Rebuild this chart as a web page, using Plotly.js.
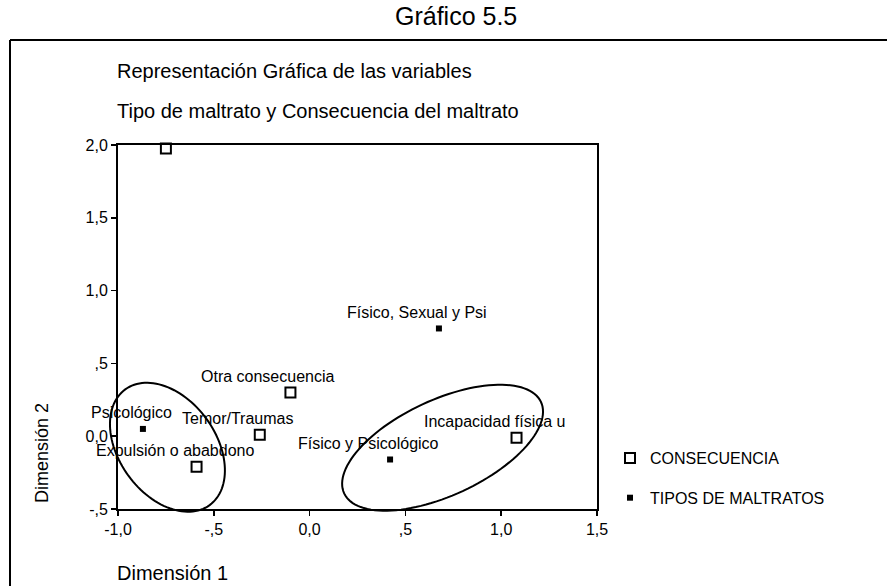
<!DOCTYPE html>
<html><head><meta charset="utf-8">
<script src="https://cdn.plot.ly/plotly-3.0.1.min.js"></script>
<style>html,body{margin:0;padding:0;background:#fff}</style>
</head><body><div id="chart" style="width:887px;height:586px"></div>
<script>
// ---- data ----
const consecuenciaNames = ["", "Otra consecuencia", "Temor/Traumas", "Expulsión o ababdono", "Incapacidad física u"];
const consecuenciaX = [-0.75, -0.10, -0.26, -0.59, 1.08];
const consecuenciaY = [1.976, 0.30, 0.01, -0.21, -0.01];
const tiposNames = ["Psicológico", "Físico, Sexual y Psi", "Físico y Psicológico"];
const tiposX = [-0.87, 0.675, 0.42];
const tiposY = [0.05, 0.74, -0.16];
const xTickVals = [-1, -0.5, 0, 0.5, 1, 1.5];
const xTickText = ["-1,0", "-,5", "0,0", ",5", "1,0", "1,5"];
const yTickVals = [-0.5, 0, 0.5, 1, 1.5, 2];
const yTickText = ["-,5", "0,0", ",5", "1,0", "1,5", "2,0"];
// cluster ellipses: centre (data units)
const ellipseCx = [-0.742, 0.694];
const ellipseCy = [-0.076, -0.079];

// ---- layout geometry ----
const W = 887, H = 586, L = 118, R = 290, T = 145, B = 77;
const PW = W - L - R, PH = H - T - B;
const xRange = [-1, 1.5], yRange = [-0.5, 2.0];
const ellA = [71.6, 108.5], ellB = [48.3, 47.8], ellTilt = [-53.9, 24.9]; // px, degrees
const labelShiftOverride = { "Psicológico": -11 }; // px, layout only
const FONT = "Liberation Sans, Arial, sans-serif";
const px2x = p => (p - L) / PW;
const px2y = p => (H - B - p) / PH;
const d2x = v => (v - xRange[0]) / (xRange[1] - xRange[0]);
const d2y = v => (v - yRange[0]) / (yRange[1] - yRange[0]);

function ellipsePath(i) {
  const cx = d2x(ellipseCx[i]), cy = d2y(ellipseCy[i]);
  const phi = ellTilt[i] * Math.PI / 180;
  let d = "";
  const n = 120;
  for (let k = 0; k <= n; k++) {
    const t = 2 * Math.PI * k / n;
    const ex = ellA[i] * Math.cos(t), ey = ellB[i] * Math.sin(t);
    const rx = ex * Math.cos(phi) - ey * Math.sin(phi);
    const ry = ex * Math.sin(phi) + ey * Math.cos(phi);
    d += (k === 0 ? "M " : " L ") + (cx + rx / PW).toFixed(5) + "," + (cy + ry / PH).toFixed(5);
  }
  return d + " Z";
}

const traces = [
  {
    type: "scatter", mode: "markers", name: "CONSECUENCIA",
    x: consecuenciaX, y: consecuenciaY, text: consecuenciaNames,
    legendgroup: "a", cliponaxis: false,
    marker: { symbol: "square-open", size: 10, color: "#000", line: { width: 2, color: "#000" } },
    hoverinfo: "text"
  },
  {
    type: "scatter", mode: "markers", name: "TIPOS DE MALTRATOS",
    x: tiposX, y: tiposY, text: tiposNames,
    legendgroup: "b", cliponaxis: false,
    marker: { symbol: "square", size: 6, color: "#000" },
    hoverinfo: "text"
  }
];

const annotations = [];
function labelPoints(xs, ys, names) {
  for (let i = 0; i < xs.length; i++) {
    if (!names[i]) continue;
    const xs0 = (names[i] in labelShiftOverride) ? labelShiftOverride[names[i]] : -22;
    annotations.push({
      x: xs[i], y: ys[i], xref: "x", yref: "y", text: names[i], showarrow: false,
      xshift: xs0, yshift: 16, font: { family: FONT, size: 16, color: "#000" }
    });
  }
}
labelPoints(consecuenciaX, consecuenciaY, consecuenciaNames);
labelPoints(tiposX, tiposY, tiposNames);

function paperText(text, xpx, ypx, size, xanchor, extra) {
  annotations.push(Object.assign({
    text, x: px2x(xpx), y: px2y(ypx), xref: "paper", yref: "paper",
    xanchor: xanchor, yanchor: "middle", showarrow: false,
    font: { family: FONT, size: size, color: "#000" }
  }, extra || {}));
}
paperText("Gráfico 5.5", 456, 16, 25, "center");
paperText("Representación Gráfica de las variables", 115, 71, 20, "left");
paperText("Tipo de maltrato y Consecuencia del maltrato", 115, 111, 20, "left");
paperText("Dimensión 1", 115, 573, 20, "left");
paperText("Dimensión 2", 42, 453, 18, "center", { textangle: -90 });

const shapes = [
  { type: "path", xref: "paper", yref: "paper", path: ellipsePath(0), line: { color: "#000", width: 2 } },
  { type: "path", xref: "paper", yref: "paper", path: ellipsePath(1), line: { color: "#000", width: 2 } },
  { type: "line", xref: "paper", yref: "paper", x0: px2x(10), y0: px2y(40), x1: px2x(890), y1: px2y(40), line: { color: "#000", width: 2 } },
  { type: "line", xref: "paper", yref: "paper", x0: px2x(10), y0: px2y(40), x1: px2x(10), y1: px2y(590), line: { color: "#000", width: 2 } }
];

const axisCommon = {
  showgrid: false, zeroline: false, showline: true, mirror: true,
  linecolor: "#000", linewidth: 2, ticks: "outside", ticklen: 5, tickwidth: 1.5, tickcolor: "#000",
  tickfont: { family: FONT, size: 16, color: "#000" }, fixedrange: true
};

const layout = {
  width: W, height: H,
  margin: { l: L, r: R, t: T, b: B, pad: 0 },
  paper_bgcolor: "#fff", plot_bgcolor: "#fff",
  font: { family: FONT, color: "#000" },
  xaxis: Object.assign({}, axisCommon, { range: xRange, tickvals: xTickVals, ticktext: xTickText }),
  yaxis: Object.assign({}, axisCommon, { range: yRange, tickvals: yTickVals, ticktext: yTickText }),
  showlegend: true,
  legend: {
    x: px2x(610), y: px2y(441), xanchor: "left", yanchor: "top",
    traceorder: "grouped", tracegroupgap: 16,
    font: { family: FONT, size: 16, color: "#000" }, bgcolor: "rgba(0,0,0,0)"
  },
  annotations, shapes
};

Plotly.newPlot("chart", traces, layout, { staticPlot: true, displayModeBar: false });
</script>
</body></html>
